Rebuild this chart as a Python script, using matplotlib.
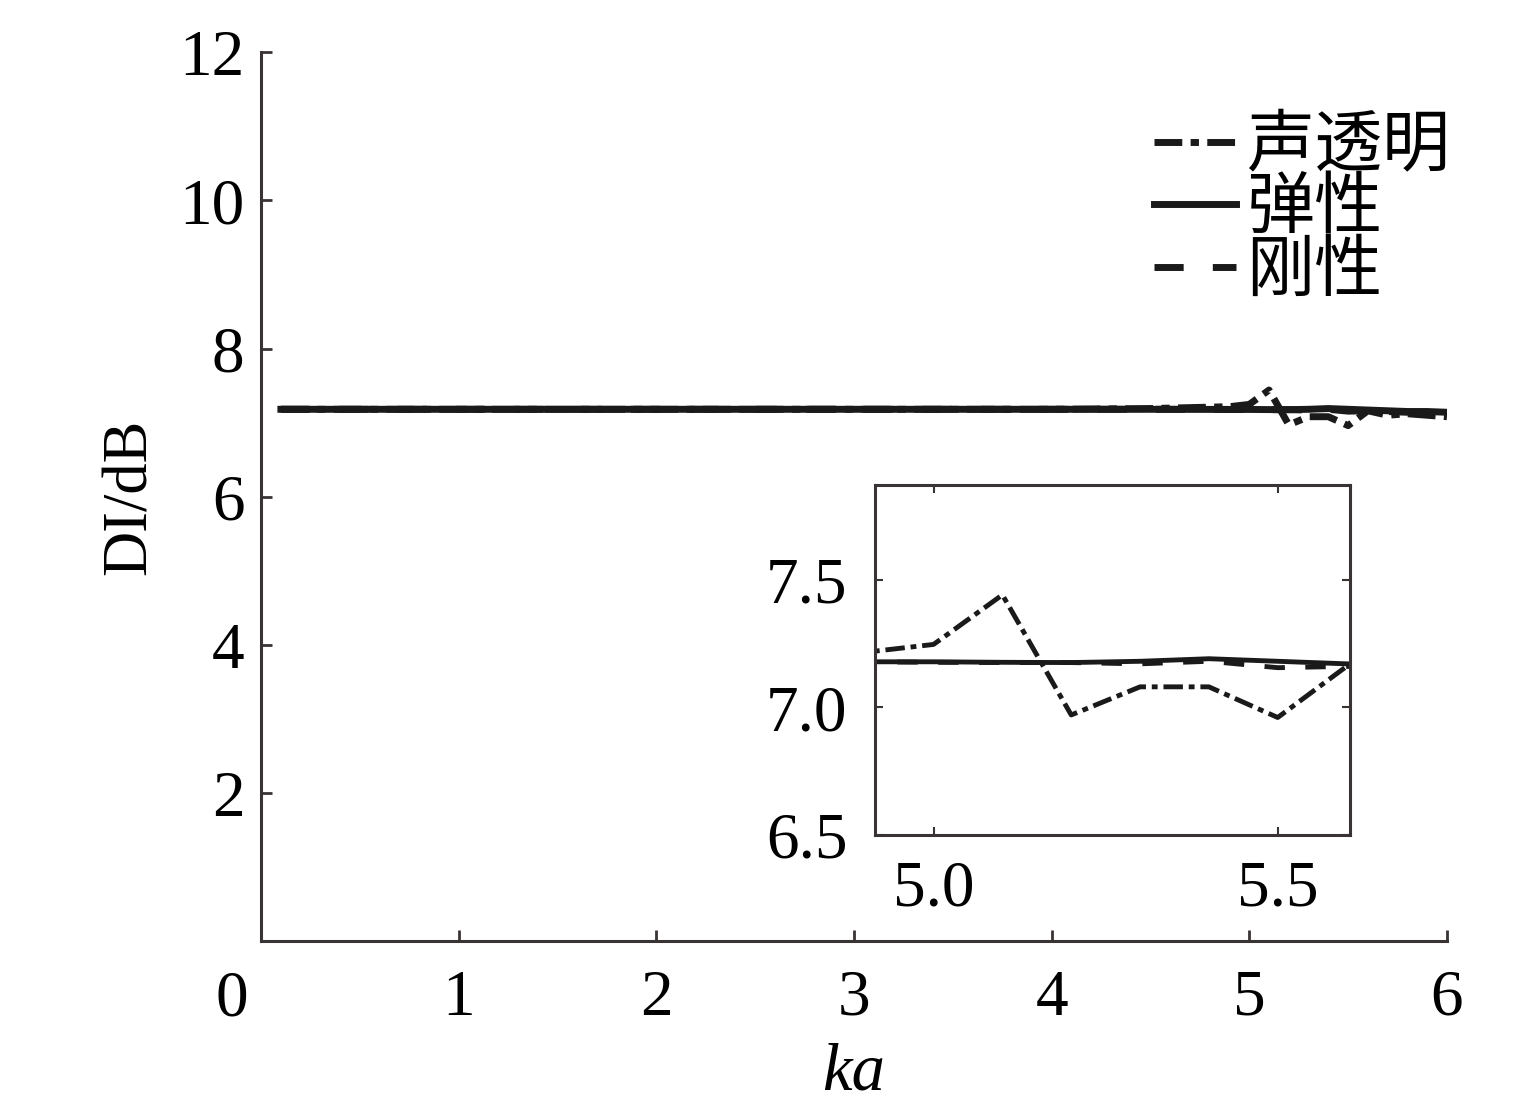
import matplotlib
matplotlib.use('Agg')
import matplotlib.pyplot as plt

plt.rcParams['font.family'] = ['Liberation Serif', 'Noto Sans CJK SC']
plt.rcParams['axes.unicode_minus'] = False

ka = [0.1, 1.0, 2.0, 3.0, 4.0, 4.5, 4.9, 5.0, 5.1, 5.2, 5.3, 5.4, 5.5, 5.6, 5.7, 5.8, 5.9, 6.0]
di_transparent = [7.18, 7.18, 7.18, 7.18, 7.18, 7.19, 7.215, 7.246, 7.44, 6.97, 7.08, 7.08, 6.96, 7.16, 7.10, 7.12, 7.10, 7.08]
di_elastic = [7.18, 7.18, 7.18, 7.18, 7.18, 7.18, 7.178, 7.178, 7.176, 7.175, 7.18, 7.19, 7.18, 7.17, 7.16, 7.15, 7.15, 7.14]
di_rigid = [7.18, 7.18, 7.18, 7.18, 7.18, 7.18, 7.178, 7.176, 7.175, 7.175, 7.17, 7.18, 7.155, 7.16, 7.15, 7.14, 7.14, 7.13]

labels = ['声透明', '弹性', '刚性']
xticks_main = [1, 2, 3, 4, 5, 6]
yticks_main = [2, 4, 6, 8, 10, 12]
xticks_inset = [5.0, 5.5]
yticks_inset = [6.5, 7.0, 7.5]

col = '#1a1a1a'
spine = '#3a3333'
ls_dd = (0, (4, 1.2, 1.2, 1.2))
ls_da = (0, (4.2, 4.2))

fig = plt.figure(figsize=(15.36, 11.1), dpi=100)
ax = fig.add_axes([0.170, 0.152, 0.772, 0.801])

ax.plot(ka, di_transparent, color=col, lw=5, linestyle=ls_dd, label=labels[0])
ax.plot(ka, di_elastic, color=col, lw=5, linestyle='-', label=labels[1])
ax.plot(ka, di_rigid, color=col, lw=5, linestyle=ls_da, label=labels[2])

ax.set_xlim(0, 6)
ax.set_ylim(0, 12)
ax.set_xticks(xticks_main)
ax.set_yticks(yticks_main)
ax.set_xticklabels([str(t) for t in xticks_main])
ax.set_yticklabels([str(t) for t in yticks_main])
ax.spines['top'].set_visible(False)
ax.spines['right'].set_visible(False)
for s in ['left', 'bottom']:
    ax.spines[s].set_linewidth(2.2)
    ax.spines[s].set_color(spine)
ax.tick_params(axis='both', direction='in', length=8, width=2, color=spine, labelsize=47)
ax.tick_params(axis='x', pad=20)
ax.tick_params(axis='y', pad=12)
ax.text(-0.0245, -0.032, '0', transform=ax.transAxes, fontsize=47, ha='center', va='top')

ax.set_ylabel('DI/dB', fontsize=45, labelpad=14)
ax.set_xlabel('ka', fontsize=48, fontstyle='italic', labelpad=10)

leg = ax.legend(loc='upper right', bbox_to_anchor=(0.944, 0.895), bbox_transform=fig.transFigure,
                frameon=False, fontsize=49, handlelength=1.2, handletextpad=0.15,
                labelspacing=0.0, borderpad=0, borderaxespad=0)

# Inset
axi = fig.add_axes([0.5697, 0.2477, 0.3092, 0.3154])
axi.plot(ka, di_transparent, color=col, lw=3.5, linestyle=ls_dd)
axi.plot(ka, di_elastic, color=col, lw=3.5, linestyle='-')
axi.plot(ka, di_rigid, color=col, lw=3.5, linestyle=ls_da)
axi.set_xlim(4.915, 5.605)
axi.set_ylim(6.5, 7.87)
axi.set_xticks(xticks_inset)
axi.set_yticks(yticks_inset)
axi.set_xticklabels(['5.0', '5.5'])
axi.set_yticklabels(['6.5', '7.0', '7.5'])
for s in axi.spines.values():
    s.set_linewidth(2.2)
    s.set_color(spine)
axi.tick_params(axis='both', direction='in', length=6, width=1.5, color=spine, labelsize=47,
                top=True, right=True)
axi.tick_params(axis='x', pad=18)
axi.tick_params(axis='y', pad=20)

fig.savefig('out.png', dpi=100)
